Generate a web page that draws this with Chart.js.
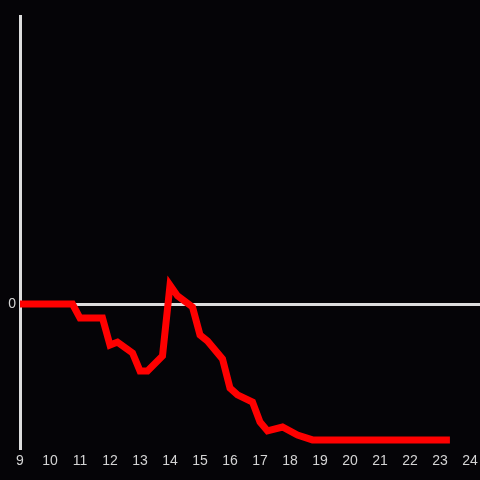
<!DOCTYPE html>
<html>
<head>
<meta charset="utf-8">
<script src="https://cdn.jsdelivr.net/npm/chart.js@4"></script>
<style>
  html, body { margin: 0; padding: 0; background: #050407; }
  #wrap { width: 480px; height: 480px; }
</style>
</head>
<body>
<div id="wrap"><canvas id="chart"></canvas></div>
<script>
// values (hour of day vs. value)
const hours = [9, 10.75, 11, 11.75, 12, 12.25, 12.75, 13, 13.25, 13.75, 14, 14.25, 14.75, 15, 15.25, 15.75, 16, 16.25, 16.75, 17, 17.25, 17.75, 18.25, 18.75, 23.33];
const values = [0, 0, -4.7, -4.7, -13.7, -12.7, -16.3, -22.3, -22.3, -17.3, 6.3, 2.7, -1, -10.3, -12.3, -18.3, -28, -30.3, -32.7, -39.3, -42.3, -41, -43.7, -45.3, -45.3];
const xTicks = [9, 10, 11, 12, 13, 14, 15, 16, 17, 18, 19, 20, 21, 22, 23, 24];
const yTicks = [0];

const axisColor = '#dddddd';
const labelColor = '#d4d4d4';

Chart.defaults.font.family = 'Arial, "Liberation Sans", sans-serif';
Chart.defaults.font.size = 14;

const ctx = document.getElementById('chart').getContext('2d');
new Chart(ctx, {
    type: 'line',
    data: {
        datasets: [{
            data: hours.map((h, i) => ({ x: h, y: values[i] })),
            borderColor: '#ff0000',
            borderWidth: 7,
            pointRadius: 0,
            fill: false,
            tension: 0
        }]
    },
    options: {
        responsive: true,
        maintainAspectRatio: false,
        animation: false,
        events: [],
        layout: { padding: { top: 16, right: 0, bottom: 0, left: 0 } },
        plugins: { legend: { display: false }, tooltip: { enabled: false } },
        scales: {
            x: {
                type: 'linear',
                min: 9,
                max: 24.333,
                afterBuildTicks: s => { s.ticks = xTicks.map(v => ({ value: v })); },
                afterFit: s => { s.height = 32; s.paddingRight = 0; s.paddingLeft = 0; },
                grid: { display: false, drawTicks: false },
                border: { display: false },
                ticks: { color: labelColor, padding: 5, maxRotation: 0, autoSkip: false }
            },
            y: {
                min: -48,
                max: 96,
                afterBuildTicks: s => { s.ticks = yTicks.map(v => ({ value: v })); },
                afterFit: s => { s.width = 20; },
                grid: { color: axisColor, lineWidth: 3, drawTicks: false },
                border: { display: true, color: axisColor, width: 3 },
                ticks: { color: labelColor, padding: 4 }
            }
        }
    }
});
</script>
</body>
</html>
